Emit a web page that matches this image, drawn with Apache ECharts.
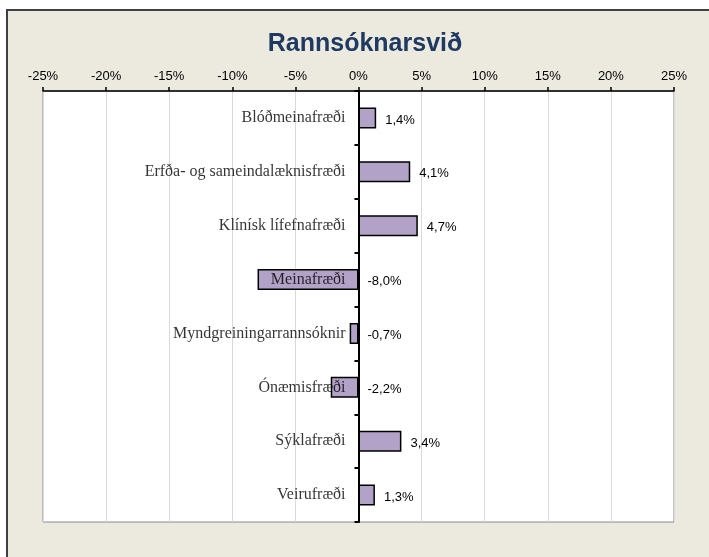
<!DOCTYPE html>
<html>
<head>
<meta charset="utf-8">
<script src="https://cdn.jsdelivr.net/npm/echarts@6/dist/echarts.min.js"></script>
<style>
  html, body { margin: 0; padding: 0; background: #fff; }
  #frame { position: absolute; left: 6px; top: 9px; width: 740px; height: 600px;
           background: #ECE9DF; border-left: 2px solid #404040; border-top: 2px solid #404040; }
  #chart { position: absolute; left: 0; top: 0; width: 709px; height: 557px; }
</style>
</head>
<body>
<div id="frame"></div>
<div id="chart"></div>
<script>
// Research fields and their percentage change
const categories = [
  'Blóðmeinafræði',
  'Erfða- og sameindalæknisfræði',
  'Klínísk lífefnafræði',
  'Meinafræði',
  'Myndgreiningarrannsóknir',
  'Ónæmisfræði',
  'Sýklafræði',
  'Veirufræði'
];
const changePct = [1.4, 4.1, 4.7, -8.0, -0.7, -2.2, 3.4, 1.3];

// Percentage axis range and step
const axisMin = -25;
const axisMax = 25;
const axisStep = 5;

const chart = echarts.init(document.getElementById('chart'));

const fmtPct = v => v.toFixed(1).replace('.', ',') + '%';

// Category names sit against the zero line, so they are drawn as labels
// of anchor points placed at x = 0 on each category row.
const nameAnchors = categories.map(c => [0, c]);

chart.setOption({
  backgroundColor: 'transparent',
  animation: false,
  title: {
    text: 'Rannsóknarsvið',
    left: 360,
    top: 27,
    textAlign: 'center',
    textStyle: {
      fontFamily: 'Liberation Sans, Arial, sans-serif',
      fontSize: 25,
      fontWeight: 'bold',
      color: '#1F3A62'
    }
  },
  grid: {
    left: 43,
    right: 35,
    top: 91,
    bottom: 35,
    containLabel: false,
    outerBoundsMode: 'none',
    show: true,
    backgroundColor: '#ffffff',
    borderColor: '#8c8c8c',
    borderWidth: 1
  },
  xAxis: {
    type: 'value',
    position: 'top',
    min: axisMin,
    max: axisMax,
    interval: axisStep,
    axisLine: { show: true, lineStyle: { color: '#000', width: 1.5 } },
    axisTick: { show: true, length: 4, lineStyle: { color: '#000', width: 1.5 } },
    axisLabel: {
      formatter: '{value}%',
      fontFamily: 'Liberation Sans, Arial, sans-serif',
      fontSize: 13,
      color: '#000',
      margin: 8
    },
    splitLine: { show: true, lineStyle: { color: '#D9D9D9', width: 1 } }
  },
  yAxis: {
    type: 'category',
    data: categories,
    inverse: true,
    z: 10,
    axisLine: { show: true, onZero: true, lineStyle: { color: '#000', width: 2 } },
    axisTick: { show: true, length: 4, lineStyle: { color: '#000', width: 2 } },
    axisLabel: { show: false },
    splitLine: { show: false }
  },
  series: [{
    type: 'bar',
    data: changePct,
    barWidth: 21,
    z: 2,
    itemStyle: {
      color: '#B3A2C7',
      borderColor: '#000',
      borderWidth: 1.5
    },
    label: {
      show: true,
      position: 'right',
      distance: 9,
      offset: [0, 2],
      formatter: p => fmtPct(p.value),
      fontFamily: 'Liberation Sans, Arial, sans-serif',
      fontSize: 13,
      color: '#000'
    }
  }, {
    type: 'scatter',
    data: nameAnchors,
    symbolSize: 0,
    z: 5,
    silent: true,
    label: {
      show: true,
      position: 'left',
      distance: 13,
      formatter: p => p.value[1],
      fontFamily: 'Liberation Serif, Times New Roman, serif',
      fontSize: 16,
      color: '#000',
      textBorderWidth: 0
    }
  }]
});
</script>
</body>
</html>
